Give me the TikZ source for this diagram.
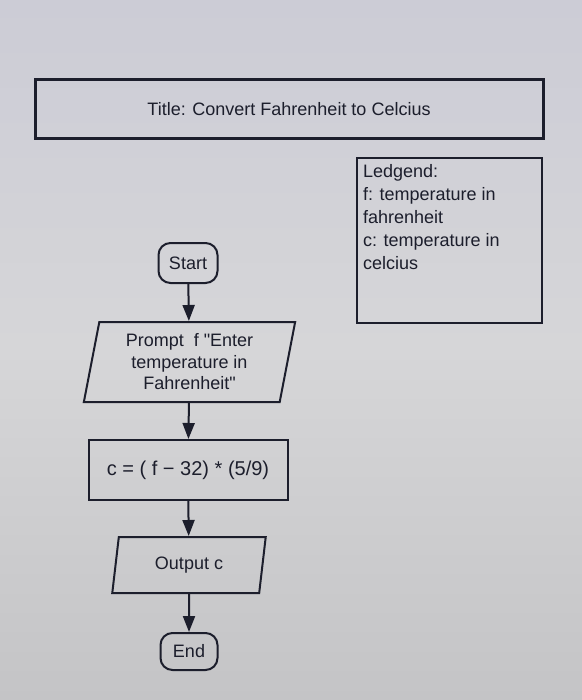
\documentclass[tikz,border=0pt]{standalone}
\usepackage{fontspec}
\setmainfont{Liberation Sans}
\usepackage{xcolor}
\usetikzlibrary{shapes.geometric,arrows.meta}
\definecolor{papertop}{RGB}{204,204,214}
\definecolor{papermid}{RGB}{214,214,216}
\definecolor{paperbottom}{RGB}{196,196,198}
\definecolor{ink}{RGB}{28,30,44}
\begin{document}
\begin{tikzpicture}[x=0.5pt,y=-0.5pt,line width=1pt,color=ink,
		every node/.style={font=\fontsize{9}{11}\selectfont},
		term/.style={draw,rounded corners=6pt,inner sep=0pt},
		io/.style={draw,trapezium,trapezium left angle=79,trapezium right angle=101,trapezium stretches=true,inner sep=0pt},
		proc/.style={draw,rectangle,inner sep=0pt},
		flow/.style={-{Triangle[length=8pt,width=6pt]}}]
			\shade[top color=papertop,bottom color=paperbottom,middle color=papermid] (0,0) rectangle (582,700);
			\node[proc,line width=1.5pt,minimum width=254pt,minimum height=29.5pt] (title) at (289,109.5) {Title: Convert Fahrenheit to Celcius};
			\node[proc,minimum width=92.5pt,minimum height=82.5pt] (legend) at (449.5,240.5) {};
			\node[anchor=north west,inner sep=0pt,align=left,font=\fontsize{9}{11.5}\selectfont] (legendtext) at (362,163) {Ledgend:\\f: temperature in\\fahrenheit\\c: temperature in\\celcius};
			\node[term,minimum width=29.5pt,minimum height=20pt] (start) at (188,263) {Start};
			\node[io,minimum width=106.5pt,minimum height=40pt,align=center,font=\fontsize{9}{10.75}\selectfont] (prompt) at (189.5,362) {Prompt \ f \textquotedbl Enter\\temperature in\\Fahrenheit\textquotedbl};
			\node[proc,minimum width=99.5pt,minimum height=30pt,font=\fontsize{10}{12}\selectfont] (calc) at (188,470) {c = ( f − 32) * (5/9)};
			\node[io,minimum width=77pt,minimum height=28pt] (output) at (189,565) {Output c};
			\node[term,minimum width=28.5pt,minimum height=18.5pt] (end) at (189,651.5) {End};
			\draw[flow] (start) -- (prompt);
			\draw[flow] (prompt) -- (calc);
			\draw[flow] (calc) -- (output);
			\draw[flow] (output) -- (end);
		\end{tikzpicture}
\end{document}
